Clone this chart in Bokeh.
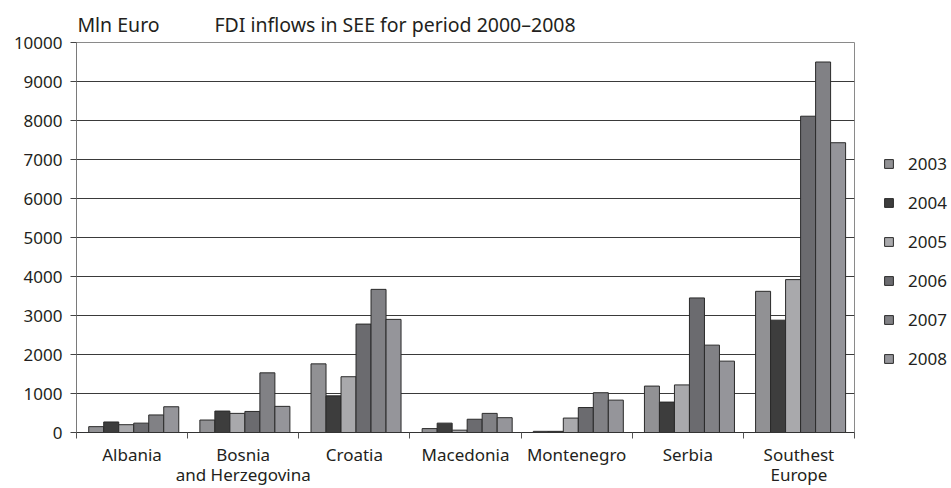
from bokeh.plotting import figure
from bokeh.models import ColumnDataSource, FixedTicker, Legend, LegendItem, LinearAxis
from bokeh.embed import file_html
from bokeh.resources import INLINE

countries = ["Albania", "Bosnia\nand Herzegovina", "Croatia", "Macedonia",
             "Montenegro", "Serbia", "Southest\nEurope"]
years = ["2003", "2004", "2005", "2006", "2007", "2008"]
v2003 = [150, 320, 1760, 100, 30, 1190, 3620]
v2004 = [270, 550, 940, 240, 30, 780, 2880]
v2005 = [200, 490, 1430, 60, 370, 1220, 3920]
v2006 = [240, 540, 2780, 340, 640, 3450, 8110]
v2007 = [450, 1530, 3670, 490, 1020, 2240, 9500]
v2008 = [660, 670, 2900, 380, 830, 1830, 7430]
series = [v2003, v2004, v2005, v2006, v2007, v2008]
colors = ["#919194", "#3d3d3d", "#a9a9ac", "#6b6b6f", "#818185", "#95959a"]
y_ticks = list(range(0, 10001, 1000))
unit_text = "Mln Euro"
title_text = "FDI inflows in SEE for period 2000\u20132008"

FONT = "Noto Sans"
TXT = "#231f20"

p = figure(frame_width=778, frame_height=390, x_range=(0, 7), y_range=(0, 10000),
           output_backend="svg", toolbar_location=None,
           min_border_left=76, min_border_right=97, min_border_top=42, min_border_bottom=56)
p.background_fill_color = "white"
p.border_fill_color = "white"
p.outline_line_color = "#8a8a8a"

bw = 0.135
centers = [i + 0.5 for i in range(len(countries))]
items = []
for k, (yr, vals, col) in enumerate(zip(years, series, colors)):
    xs = [c + (k - 2.5) * bw + 0.015 for c in centers]
    src = ColumnDataSource(dict(x=xs, top=vals))
    r = p.vbar(x="x", top="top", width=bw, bottom=0, source=src,
               fill_color=col, line_color="#2a2a2a", line_width=1)
    items.append(LegendItem(label=yr, renderers=[r]))

# x axis
p.xaxis.ticker = FixedTicker(ticks=centers, minor_ticks=list(range(0, 8)))
p.xaxis.major_label_overrides = {c: n for c, n in zip(centers, countries)}
p.xaxis.major_tick_out = 0
p.xaxis.major_tick_in = 0
p.xaxis.minor_tick_out = 6
p.xaxis.minor_tick_in = 0
p.xaxis.minor_tick_line_color = "#555555"
p.xaxis.axis_line_color = "#333333"
p.xaxis.major_label_text_font = FONT
p.xaxis.major_label_text_font_size = "17px"
p.xaxis.major_label_text_color = TXT
p.xaxis.major_label_text_line_height = 0.88
p.xaxis.major_label_standoff = 4
p.xgrid.grid_line_color = None

# y axis
p.yaxis.ticker = FixedTicker(ticks=y_ticks)
p.yaxis.minor_tick_line_color = None
p.yaxis.major_tick_out = 6
p.yaxis.major_tick_in = 0
p.yaxis.major_tick_line_color = "#444444"
p.yaxis.axis_line_color = "#7a7a7a"
p.yaxis.major_label_text_font = FONT
p.yaxis.major_label_text_font_size = "17px"
p.yaxis.major_label_text_color = TXT
p.yaxis.major_label_standoff = 8
p.ygrid.ticker = FixedTicker(ticks=y_ticks)
p.ygrid.grid_line_color = "#3a3a3a"
p.ygrid.grid_line_width = 1

# title texts on a bare top axis
top = LinearAxis(ticker=FixedTicker(ticks=[0.378, 2.866], minor_ticks=[]),
                 major_label_overrides={0.378: unit_text, 2.866: title_text},
                 axis_line_color=None, major_tick_line_color=None, minor_tick_line_color=None,
                 major_tick_out=0, major_tick_in=0, major_label_standoff=5,
                 major_label_text_font=FONT, major_label_text_font_size="19.5px",
                 major_label_text_color=TXT)
p.add_layout(top, "above")

legend = Legend(items=items, location=(29, 62), orientation="vertical",
                border_line_color=None, background_fill_alpha=0,
                padding=0, margin=0, spacing=16, label_height=20,
                glyph_width=11, glyph_height=11, label_standoff=14,
                label_text_font=FONT, label_text_font_size="17px", label_text_color=TXT)
p.add_layout(legend, "right")

open("out.html", "w").write(file_html(p, INLINE))
